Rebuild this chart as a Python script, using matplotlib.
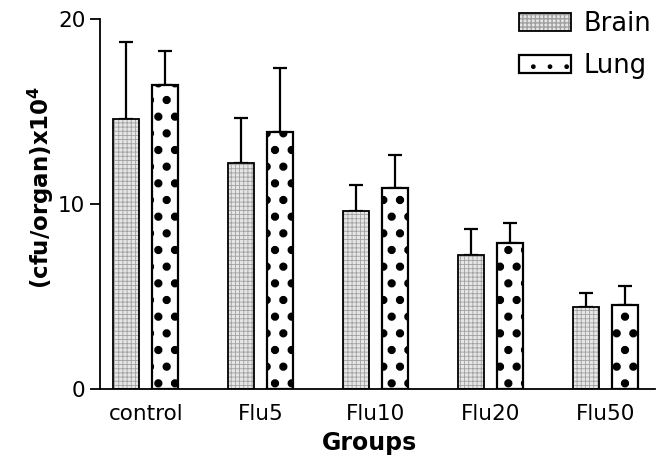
import numpy as np
import matplotlib.pyplot as plt

groups = ['control', 'Flu5', 'Flu10', 'Flu20', 'Flu50']
brain = [14.58, 12.23, 9.64, 7.24, 4.42]
brain_err = [4.16, 2.45, 1.37, 1.42, 0.79]
lung = [16.43, 13.91, 10.85, 7.87, 4.54]
lung_err = [1.86, 3.46, 1.78, 1.12, 1.01]

plt.rcParams['font.family'] = 'DejaVu Sans'

fig = plt.figure(figsize=(6.66, 4.68), dpi=100)
ax = fig.add_axes([0.150, 0.169, 0.833, 0.790])

x = np.arange(len(groups))
w = 0.226
off = 0.17

# brain: fine grey stipple, lung: big black dots
b1 = ax.bar(x - off, brain, w, color='#e6e6e6', edgecolor='#a0a0a0',
            hatch='++++', linewidth=0, zorder=2)
b2 = ax.bar(x + off, lung, w, color='white', edgecolor='black',
            hatch='.', linewidth=0, zorder=2)
for b in b1:
    b.set_hatch_linewidth(0.6)
for b in b2:
    b.set_hatch_linewidth(3.5)

# outlines
o1 = ax.bar(x - off, brain, w, fill=False, edgecolor='black', linewidth=1.3, zorder=3)
o2 = ax.bar(x + off, lung, w, fill=False, edgecolor='black', linewidth=1.6, zorder=3)

# upper error bars only
ax.errorbar(x - off, brain, yerr=[np.zeros(5), brain_err], fmt='none',
            ecolor='black', elinewidth=1.6, capsize=5, capthick=1.6, zorder=1)
ax.errorbar(x + off, lung, yerr=[np.zeros(5), lung_err], fmt='none',
            ecolor='black', elinewidth=1.6, capsize=5, capthick=1.6, zorder=1)

ax.set_xlim(-0.4, 4.43)
ax.set_ylim(0, 20)
ax.set_yticks([0, 10, 20])
ax.set_xticks(x)
ax.set_xticklabels(groups)
ax.tick_params(axis='y', length=7, width=1.3, labelsize=15.5, pad=3.5)
ax.tick_params(axis='x', length=0, labelsize=15.5, pad=11)
for s in ['top', 'right']:
    ax.spines[s].set_visible(False)
ax.spines['left'].set_linewidth(1.3)
ax.spines['bottom'].set_linewidth(1.3)

ax.set_xlabel('Groups', fontsize=17, fontweight='bold')
ax.xaxis.set_label_coords(0.486, -0.115)
ax.set_ylabel('(cfu/organ)x10$^\\mathbf{4}$', fontsize=16.5, fontweight='bold')
ax.yaxis.set_label_coords(-0.08, 0.546)

leg = ax.legend([(b1[0], o1[0]), (b2[0], o2[0])], ['Brain', 'Lung'],
                loc='upper right', bbox_to_anchor=(1.012, 1.05), frameon=False,
                fontsize=18.5, handlelength=2.03, handleheight=0.68,
                handletextpad=0.47, labelspacing=0.63, borderaxespad=0)

fig.savefig('out.png', dpi=100)
